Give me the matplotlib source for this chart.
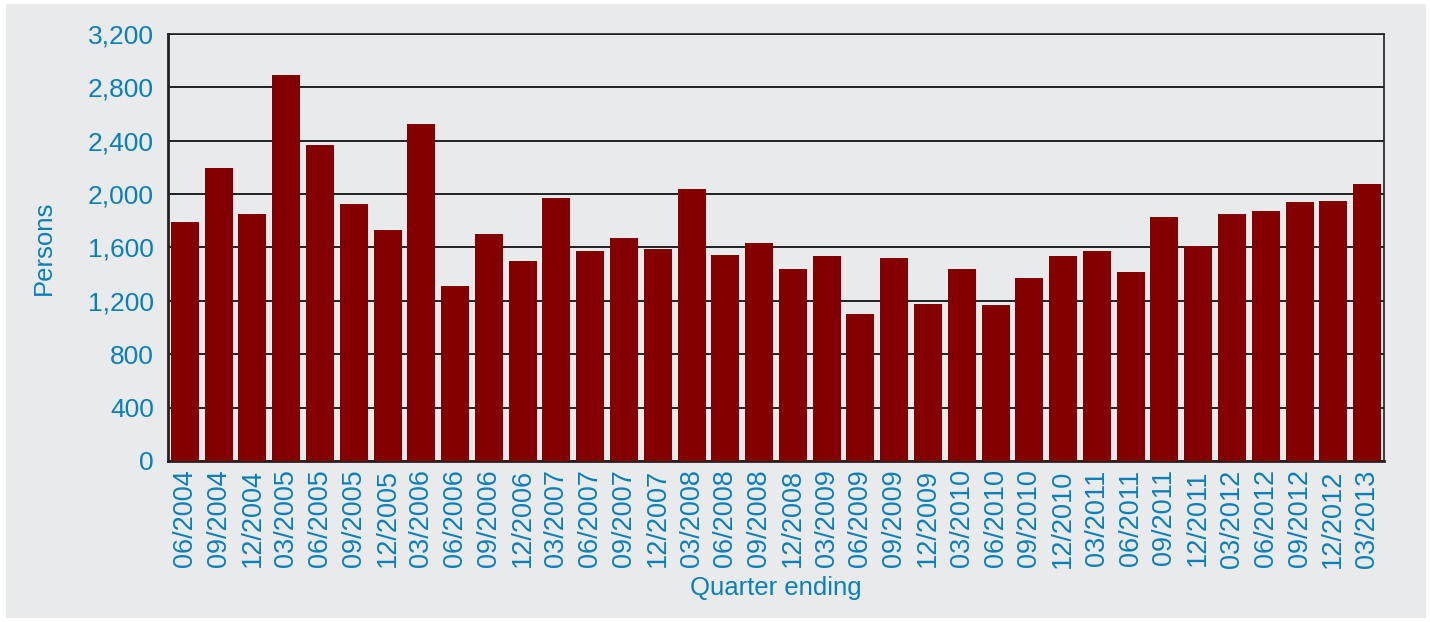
import matplotlib
matplotlib.use('agg')
import matplotlib.pyplot as plt
from matplotlib.patches import Rectangle
from matplotlib.ticker import FuncFormatter

# DATA ###############################################################

quarters = ['06/2004', '09/2004', '12/2004', '03/2005', '06/2005', '09/2005',
            '12/2005', '03/2006', '06/2006', '09/2006', '12/2006', '03/2007',
            '06/2007', '09/2007', '12/2007', '03/2008', '06/2008', '09/2008',
            '12/2008', '03/2009', '06/2009', '09/2009', '12/2009', '03/2010',
            '06/2010', '09/2010', '12/2010', '03/2011', '06/2011', '09/2011',
            '12/2011', '03/2012', '06/2012', '09/2012', '12/2012', '03/2013']
persons = [1788, 2193, 1848, 2892, 2366, 1923, 1728, 2524, 1315, 1698,
           1502, 1968, 1577, 1668, 1592, 2036, 1547, 1630, 1442, 1540,
           1104, 1525, 1179, 1442, 1172, 1375, 1540, 1577, 1420, 1825,
           1608, 1848, 1870, 1938, 1946, 2073]
y_ticks = [0, 400, 800, 1200, 1600, 2000, 2400, 2800, 3200]

# STYLE ##############################################################

BG = '#e9eaec'
BAR = '#840000'
TXT = '#0a80b8'

plt.rcParams['font.family'] = ['Liberation Sans', 'DejaVu Sans']

fig = plt.figure(figsize=(14.3, 6.22), dpi=100, facecolor='white')
fig.patches.append(Rectangle((6 / 1430, 4 / 622), 1420 / 1430, 614 / 622,
                             transform=fig.transFigure, facecolor=BG,
                             edgecolor='none', zorder=-10))

ax = fig.add_axes([168 / 1430, 1 - 461 / 622, 1216 / 1430, 427 / 622])
ax.set_facecolor(BG)
ax.set_zorder(5)

x = range(len(quarters))
ax.bar(x, persons, width=0.83, color=BAR, zorder=3)

ax.set_xlim(-0.5, len(quarters) - 0.5)
ax.set_ylim(0, 3200)
ax.set_yticks(y_ticks)
ax.yaxis.set_major_formatter(FuncFormatter(lambda v, p: '{:,.0f}'.format(v)))
ax.set_xticks(list(x))
ax.set_xticklabels(quarters, rotation=90)

ax.grid(axis='y', color='#111111', linewidth=1.3, zorder=1)
ax.tick_params(length=0, labelcolor=TXT)
ax.tick_params(axis='y', pad=10, labelsize=19)
ax.tick_params(axis='x', pad=6, labelsize=19.5)

for side in ['left', 'bottom']:
    ax.spines[side].set_linewidth(2)
    ax.spines[side].set_color('#222222')
for side in ['top', 'right']:
    ax.spines[side].set_linewidth(1.2)
    ax.spines[side].set_color('#222222')

ax.set_ylabel('Persons', color=TXT, fontsize=18.5, labelpad=23)
ax.set_xlabel('Quarter ending', color=TXT, fontsize=18.5, labelpad=6)

fig.savefig('out.png', dpi=100, facecolor='white')
